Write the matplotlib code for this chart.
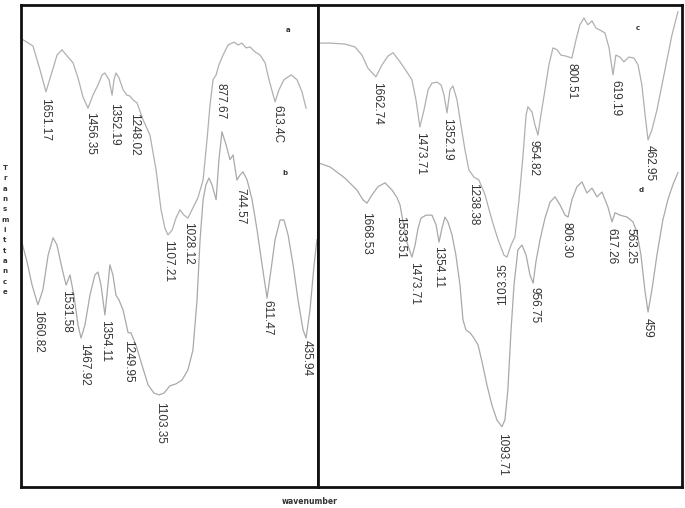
import matplotlib
matplotlib.use("Agg")
import matplotlib.pyplot as plt

# ---------------- data (wavenumber cm-1, transmittance a.u.) ----------------
a_wn = [1751, 1705, 1672, 1645, 1617, 1594, 1571, 1543, 1520, 1497, 1474, 1451, 1428, 1405,
        1386, 1373, 1354, 1340, 1331, 1322, 1308, 1289, 1271, 1257, 1243, 1225, 1197, 1165,
        1137, 1114, 1096, 1082, 1063, 1045, 1027, 1008, 990, 967, 944, 920, 902, 888, 874,
        860, 847, 828, 805, 777, 759, 741, 722, 704, 681, 657, 634, 616, 588, 570, 547, 514,
        487, 464, 445]
a_T = [92.8, 91.5, 86.5, 82.0, 86.1, 89.6, 90.7, 89.2, 88.0, 84.9, 80.9, 78.6, 81.3, 83.4,
       85.5, 85.9, 84.5, 81.3, 84.5, 85.9, 84.9, 82.4, 81.3, 81.1, 80.3, 79.7, 76.2, 73.0,
       65.8, 57.5, 53.7, 52.3, 53.3, 55.8, 57.5, 56.4, 55.8, 57.9, 60.0, 63.7, 72.0, 79.3, 84.5,
       85.5, 87.6, 89.6, 91.7, 92.3, 91.7, 92.1, 91.1, 91.3, 90.3, 89.6, 88.0, 84.5, 79.9, 82.4,
       84.5, 85.5, 84.5, 82.0, 78.6]

b_wn = [1755, 1732, 1709, 1682, 1659, 1635, 1612, 1594, 1571, 1552, 1534, 1516, 1497, 1483,
        1465, 1442, 1419, 1405, 1391, 1373, 1359, 1350, 1336, 1322, 1308, 1289, 1266, 1253,
        1230, 1202, 1174, 1147, 1123, 1100, 1073, 1045, 1017, 990, 967, 948, 934, 920, 907,
        893, 879, 860, 847, 833, 814, 796, 782, 764, 750, 736, 717, 694, 671, 648, 625, 607,
        588, 565, 547, 528, 505, 482, 459, 445, 427, 408, 395]
b_T = [50.6, 46.7, 41.9, 37.8, 40.9, 48.1, 51.7, 50.2, 45.4, 41.9, 44.0, 39.8, 33.6, 30.9,
       33.6, 39.8, 44.0, 44.6, 41.9, 35.7, 41.9, 46.1, 44.0, 39.8, 38.8, 36.7, 32.0, 32.0,
       29.5, 25.3, 21.2, 19.5, 19.1, 19.5, 21.0, 21.4, 22.2, 24.3, 28.4, 38.8, 51.3, 59.6, 62.7,
       64.1, 62.7, 59.6, 67.9, 73.7, 71.0, 67.9, 68.9, 63.7, 64.7, 65.4, 63.7, 59.6, 53.3,
       46.1, 39.2, 45.0, 51.3, 55.4, 55.4, 52.3, 46.1, 38.8, 32.6, 30.9, 36.7, 46.1, 51.3]

c_wn = [1906, 1857, 1792, 1748, 1717, 1691, 1656, 1629, 1603, 1581, 1550, 1520, 1498, 1480,
        1463, 1445, 1427, 1410, 1388, 1370, 1357, 1344, 1331, 1318, 1300, 1283, 1265, 1248,
        1226, 1204, 1177, 1147, 1120, 1094, 1081, 1063, 1046, 1028, 1011, 997, 989, 971, 958,
        945, 932, 914, 897, 879, 861, 844, 822, 796, 778, 761, 743, 726, 708, 690, 673, 651,
        633, 616, 603, 585, 568, 546, 524, 506, 489, 475, 462, 445, 423, 401, 379, 357, 331]
c_T = [92.1, 92.1, 91.9, 91.3, 89.6, 86.9, 85.1, 87.6, 89.4, 90.1, 88.2, 86.1, 84.5, 80.3,
       74.7, 78.2, 82.4, 83.8, 84.0, 83.4, 81.3, 77.6, 82.4, 83.2, 80.3, 75.1, 69.9, 65.8,
       64.3, 63.7, 60.6, 55.4, 51.3, 48.1, 47.7, 50.2, 51.9, 59.6, 68.5, 77.2, 78.9, 77.8, 75.1,
       73.0, 77.2, 82.4, 87.6, 91.1, 90.7, 89.6, 89.4, 89.0, 92.8, 95.9, 97.3, 95.9, 96.7,
       95.2, 94.8, 94.2, 91.1, 85.5, 89.6, 89.2, 88.2, 89.2, 89.0, 87.6, 83.4, 77.2, 72.0,
       74.1, 78.2, 83.4, 88.6, 93.8, 98.6]

d_wn = [1906, 1857, 1792, 1739, 1713, 1695, 1673, 1647, 1616, 1585, 1563, 1550, 1537, 1520,
        1498, 1484, 1471, 1458, 1436, 1410, 1392, 1379, 1366, 1353, 1340, 1322, 1305, 1287,
        1274, 1261, 1243, 1226, 1208, 1190, 1169, 1147, 1125, 1103, 1090, 1077, 1063, 1050,
        1033, 1015, 997, 980, 966, 954, 936, 914, 892, 870, 848, 826, 813, 796, 774, 752, 730,
        708, 686, 664, 638, 620, 607, 585, 554, 528, 511, 493, 476, 462, 445, 423, 397, 375,
        353, 331]
d_T = [67.2, 66.4, 64.1, 61.6, 59.6, 58.9, 60.6, 62.3, 63.1, 61.6, 60.0, 58.5, 55.0, 50.8,
       47.7, 50.2, 53.7, 55.8, 56.4, 56.4, 54.4, 50.8, 53.7, 56.0, 55.0, 52.3, 48.1, 41.9,
       34.7, 32.6, 32.0, 30.9, 29.5, 25.9, 21.2, 17.0, 13.9, 12.5, 13.9, 20.1, 32.6, 41.9,
       49.2, 50.2, 48.1, 44.0, 42.3, 46.7, 51.3, 55.8, 59.1, 60.2, 58.5, 56.4, 56.0, 59.6,
       62.3, 63.3, 61.0, 62.0, 60.2, 61.2, 58.1, 55.0, 56.9, 56.4, 56.0, 55.0, 52.9, 48.1,
       40.9, 36.3, 40.9, 48.1, 55.4, 59.6, 62.7, 65.2]

# peak labels: (text, wavenumber position, transmittance position)
left_labels = ["1651.17", "1456.35", "1352.19", "1248.02", "1107.21", "1028.12", "877.67",
               "613.4C", "744.57", "1660.82", "1531.58", "1467.92", "1354.11", "1249.95",
               "1103.35", "611.47", "435.94"]
left_lab_wn = [1649, 1442, 1331, 1239, 1082, 990, 842, 579, 750, 1682, 1552, 1469, 1373,
               1266, 1119, 625, 441]
left_lab_T = [80.7, 77.8, 79.7, 77.6, 51.3, 55.0, 83.8, 79.3, 62.0, 36.7, 40.9, 29.9, 34.7,
              30.5, 17.6, 38.8, 30.5]

right_labels = ["1662.74", "1473.71", "1352.19", "1238.38", "954.82", "800.51", "619.19",
                "462.95", "1668.53", "1533.51", "1473.71", "1354.11", "956.75", "806.30",
                "617.26", "563.25", "1093.71", "459"]
right_lab_wn = [1651, 1463, 1344, 1230, 965, 796, 607, 454, 1699, 1550, 1489, 1384, 958,
                818, 625, 541, 1103, 462]
right_lab_T = [84.0, 73.7, 76.6, 63.1, 72.0, 88.0, 84.5, 71.0, 57.1, 56.2, 46.7, 50.0, 41.5,
               55.0, 53.7, 53.7, 11.2, 35.1]
# label printed upside down in the original
flipped_label = "1103.35"
flipped_wn = 1098
flipped_T = 46.5

trace_names = ["a", "b", "c", "d"]
name_wn = [528, 542, 506, 493]
name_T = [94.8, 65.2, 95.2, 61.6]

# ---------------- figure ----------------
W, H = 685, 508
fig = plt.figure(figsize=(W / 100, H / 100), dpi=100)
fig.patch.set_facecolor("white")

top, bot = 5, 487
axL = fig.add_axes([21 / W, (H - bot) / H, (318 - 21) / W, (bot - top) / H])
axR = fig.add_axes([318 / W, (H - bot) / H, (682 - 318) / W, (bot - top) / H])

line_col = "#a9a9a9"
txt_col = "#333333"
font = "Liberation Sans"

for ax, lim in ((axL, (1760, 390)), (axR, (1910, 313))):
    ax.set_xlim(*lim)
    ax.set_ylim(0, 100)
    ax.set_xticks([])
    ax.set_yticks([])
    for s in ax.spines.values():
        s.set_linewidth(2.0)
        s.set_color("#111111")

axL.plot(a_wn, a_T, color="#b0b0b0", lw=0.9)
axL.plot(b_wn, b_T, color=line_col, lw=0.9)
axR.plot(c_wn, c_T, color="#b0b0b0", lw=0.9)
axR.plot(d_wn, d_T, color=line_col, lw=0.9)

for t, x, y in zip(left_labels, left_lab_wn, left_lab_T):
    axL.text(x, y, t, rotation=270, ha="center", va="top", fontsize=8.5,
             color=txt_col, family=font)
for t, x, y in zip(right_labels, right_lab_wn, right_lab_T):
    axR.text(x, y, t, rotation=270, ha="center", va="top", fontsize=8.5,
             color=txt_col, family=font)
axR.text(flipped_wn, flipped_T, flipped_label, rotation=90, ha="center", va="top",
         fontsize=8.5, color=txt_col, family=font)

for i, (n, x, y) in enumerate(zip(trace_names, name_wn, name_T)):
    ax = axL if i < 2 else axR
    ax.text(x, y, n, ha="center", va="center", fontsize=5, fontweight="bold",
            color="#333333", family="DejaVu Sans")

fig.text(5 / W, 1 - 230 / H, "\n".join("Transmittance"), ha="center", va="center",
         fontsize=5, fontweight="bold", linespacing=1.87, color="#333333")
fig.text(310 / W, 1 - 502 / H, "wavenumber", ha="center", va="center",
         fontsize=5.5, fontweight="bold", color="#333333")

fig.savefig("out.png", dpi=100, facecolor="white")
